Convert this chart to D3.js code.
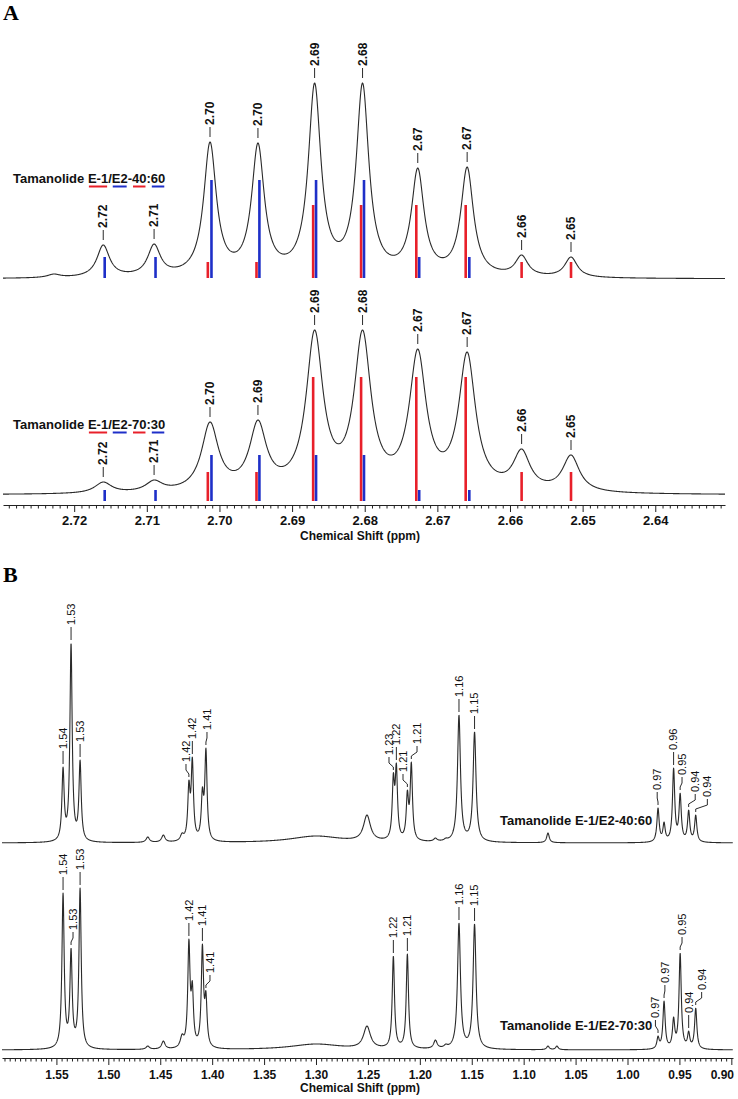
<!DOCTYPE html>
<html>
<head>
<meta charset="utf-8">
<script src="https://cdn.jsdelivr.net/npm/d3@7"></script>
<style>
  body { margin: 0; background: #fff; }
  svg { display: block; }
</style>
</head>
<body>
<svg id="chart"></svg>
<script>
// ---------- panel A : 2.64 - 2.73 ppm ----------
const aTicks = [2.72, 2.71, 2.70, 2.69, 2.68, 2.67, 2.66, 2.65, 2.64];
// observed peaks (ppm) and their heights (a.u.)
const aPeaks   = [2.7228, 2.7160, 2.7090, 2.7013, 2.6947, 2.6869, 2.6803, 2.6727, 2.6659, 2.6584, 2.6516];
const aUpperH  = [5, 34, 35, 137, 136, 196, 196, 111, 112, 24, 22];
const aLowerH  = [0, 13, 15, 73, 75, 165, 165, 146, 143, 46, 40];
const aUpperLabels = [null, "2.72", "2.71", "2.70", "2.70", "2.69", "2.68", "2.67", "2.67", "2.66", "2.65"];
const aLowerLabels = [null, "2.72", "2.71", "2.70", "2.69", "2.69", "2.68", "2.67", "2.67", "2.66", "2.65"];
// calculated lines of E-1 (red) and E-2 (blue)
const e1Ppm = [2.7016, 2.6949, 2.6871, 2.6805, 2.6729, 2.6661, 2.6584, 2.6516];
const e2Ppm = [2.7158, 2.7088, 2.7011, 2.6945, 2.6867, 2.6801, 2.6725, 2.6656];
const upperE1 = [16, 16, 73, 73, 73, 73, 16, 16];
const upperE2 = [21, 21, 98, 98, 98, 98, 21, 21];
const lowerE1 = [29, 29, 124, 124, 124, 124, 29, 29];
const lowerE2 = [11, 11, 46, 46, 46, 46, 11, 11];

// ---------- panel B : 0.90 - 1.60 ppm ----------
const bTicks = [1.55, 1.50, 1.45, 1.40, 1.35, 1.30, 1.25, 1.20, 1.15, 1.10, 1.05, 1.00, 0.95, 0.90];
const bPeaks  = [1.5436, 1.5359, 1.5272, 1.4620, 1.4470, 1.4290, 1.4224, 1.4191, 1.4094, 1.4060,
                 1.3000, 1.2509, 1.2255, 1.2226, 1.2120, 1.2082, 1.1850, 1.1750, 1.1623, 1.1473,
                 1.0766, 1.0680, 0.9706, 0.9648, 0.9556, 0.9493, 0.9411, 0.9343];
const bWidth  = [0.0013, 0.0013, 0.0013, 0.002, 0.002, 0.002, 0.0013, 0.0013, 0.0013, 0.0013,
                 0.03, 0.004, 0.0013, 0.0013, 0.0013, 0.0013, 0.002, 0.002, 0.0017, 0.0017,
                 0.0015, 0.0015, 0.0013, 0.0013, 0.0013, 0.0013, 0.0013, 0.0013];
const bUpperH = [76, 200, 83, 6, 8, 10, 63, 86, 56, 95, 7, 28, 70, 80, 53, 81, 5, 5, 128, 111, 10, 0, 35, 21, 75, 50, 33, 28];
const bLowerH = [157, 102, 162, 4, 9, 16, 111, 69, 106, 59, 6, 24, 94, 0, 96, 0, 10, 6, 127, 126, 4, 4, 14, 49, 33, 97, 19, 42];

const bUpperLabelText = ["1.54", "1.53", "1.53", "1.42", "1.42", "1.41", "1.23", "1.22", "1.21", "1.21", "1.16", "1.15", "0.97", "0.96", "0.95", "0.94", "0.94"];
const bUpperLabelPeak = [1.5436, 1.5359, 1.5272, 1.4224, 1.4191, 1.4060, 1.2255, 1.2226, 1.2120, 1.2082, 1.1623, 1.1473, 0.9706, 0.9556, 0.9493, 0.9411, 0.9343];
const bUpperLabelAt   = [1.5436, 1.5359, 1.5272, 1.4252, 1.4194, 1.4050, 1.2297, 1.2226, 1.2162, 1.2027, 1.1623, 1.1473, 0.9714, 0.9556, 0.9475, 0.9348, 0.9231];
const bLowerLabelText = ["1.54", "1.53", "1.53", "1.42", "1.41", "1.41", "1.22", "1.21", "1.16", "1.15", "0.97", "0.97", "0.95", "0.94", "0.94"];
const bLowerLabelPeak = [1.5436, 1.5359, 1.5272, 1.4224, 1.4094, 1.4060, 1.2255, 1.2120, 1.1623, 1.1473, 0.9706, 0.9648, 0.9493, 0.9411, 0.9343];
const bLowerLabelAt   = [1.5436, 1.5340, 1.5272, 1.4224, 1.4094, 1.4021, 1.2255, 1.2120, 1.1623, 1.1473, 0.9731, 0.9640, 0.9475, 0.9411, 0.9286];

const W = 738, H = 1099;
const RED = "#e8202a", BLUE = "#1e2fc8", INK = "#2a2a2a";
const sans = "Arial, 'Liberation Sans', sans-serif";

const svg = d3.select("#chart").attr("width", W).attr("height", H);

// lorentzian line shapes; amplitudes fitted so the curve passes through the read peak heights
function lor(p, q, a, w) { return a / (1 + ((p - q) / w) ** 2); }
function fitAmps(ppm, h, w) {
  let a = h.slice();
  for (let it = 0; it < 80; it++) {
    const s = ppm.map(p => d3.sum(ppm, (q, j) => lor(p, q, a[j], w[j])));
    a = a.map((v, i) => h[i] === 0 ? 0 : Math.max(0, v + 0.6 * (h[i] - s[i])));
  }
  return a;
}
function makeSpec(ppm, h, w) {
  const amps = fitAmps(ppm, h, w);
  return p => d3.sum(ppm, (q, j) => lor(p, q, amps[j], w[j]));
}

function drawCurve(g, x, y, f, step) {
  const [d0, d1] = x.domain();
  const pts = d3.range(d0, d1, -step).map(p => [p, f(p)]);
  g.append("path")
    .attr("d", d3.line().x(d => x(d[0])).y(d => y(d[1]))(pts))
    .attr("fill", "none")
    .attr("stroke", INK)
    .attr("stroke-width", 1.1)
    .attr("stroke-linejoin", "round");
}

function drawLabels(g, x, y, texts, peaks, ats, f, o) {
  texts.forEach((t, i) => {
    if (!t) return;
    const px = x(peaks[i]), lx = x(ats[i]);
    const top = y(f(peaks[i]));
    const y0 = top - o.gap, y1 = top - o.gap - o.len;
    const pts = Math.abs(px - lx) < 0.5
      ? [[px, y0], [px, y1]]
      : [[px, y0], [px, y0 - 3], [lx, y0 - 7], [lx, y1]];
    g.append("path").attr("d", d3.line()(pts))
      .attr("fill", "none").attr("stroke", INK).attr("stroke-width", 1);
    g.append("text")
      .attr("transform", `translate(${lx},${y1 - 2}) rotate(-90)`)
      .attr("dy", "0.35em")
      .attr("font-family", sans)
      .attr("font-size", o.size)
      .attr("font-weight", o.weight)
      .attr("fill", "#111")
      .text(t);
  });
}

function drawSticks(g, x, ppm, vals, color) {
  g.selectAll(null).data(ppm).enter().append("line")
    .attr("x1", d => x(d)).attr("x2", d => x(d))
    .attr("y1", 0).attr("y2", (d, i) => -vals[i])
    .attr("stroke", color).attr("stroke-width", 2.6);
}

function legend(g, x, y, parts, underline) {
  const t = g.append("text").attr("x", x).attr("y", y)
    .attr("font-family", sans).attr("font-size", 13).attr("font-weight", "bold").attr("fill", "#111");
  t.selectAll("tspan").data(parts).enter().append("tspan").text(d => d[0]);
  if (!underline) return;
  const node = t.node();
  let pos = 0;
  parts.forEach(d => {
    const len = d[0].length;
    if (d[1]) {
      const x0 = x + node.getSubStringLength(0, pos) + 1;
      const w = node.getSubStringLength(pos, len) - 2;
      g.append("line").attr("x1", x0).attr("x2", x0 + w)
        .attr("y1", y + 3.5).attr("y2", y + 3.5)
        .attr("stroke", d[1]).attr("stroke-width", 2);
    }
    pos += len;
  });
}

function drawAxis(g, x, y0, major, minor, fmt, fontSize, pad) {
  const ax = g.append("g").attr("transform", `translate(0,${y0})`);
  ax.call(d3.axisBottom(x).tickValues(minor.filter(v => !major.some(m => Math.abs(m - v) < 1e-9)))
      .tickSize(3.5).tickSizeOuter(0).tickFormat(""));
  ax.append("g").call(d3.axisBottom(x).tickValues(major).tickSize(7).tickSizeOuter(0)
      .tickPadding(pad).tickFormat(fmt))
    .call(s => s.select(".domain").remove());
  ax.selectAll("text").attr("font-family", sans).attr("font-size", fontSize)
    .attr("font-weight", "bold").attr("fill", "#111");
  ax.selectAll("line, path").attr("stroke", "#222");
  // keep the end labels inside the axis
  const [r0, r1] = x.range();
  ax.selectAll(".tick text").each(function () {
    const b = this.getBBox();
    const tx = +this.parentNode.getAttribute("transform").match(/translate\(([-\d.]+)/)[1];
    if (tx + b.x + b.width > r1 + 2) d3.select(this).attr("text-anchor", "end").attr("x", r1 + 1 - tx);
  });
  return ax;
}

// ================= panel A =================
const xA = d3.scaleLinear().domain([2.7298, 2.6304]).range([3, 725]);
const yA = d3.scaleLinear().domain([0, 200]).range([0, -200]);
const fAU = makeSpec(aPeaks, aUpperH, aPeaks.map(() => 0.00105));
const fAL = makeSpec(aPeaks, aLowerH, aPeaks.map(() => 0.0014));

svg.append("text").attr("x", 3).attr("y", 20)
  .attr("font-family", "'Times New Roman', 'Liberation Serif', serif")
  .attr("font-size", 22).attr("font-weight", "bold").text("A");

const gAU = svg.append("g").attr("transform", "translate(0,279)");
drawSticks(svg.append("g").attr("transform", "translate(0,278)"), xA, e1Ppm, upperE1, RED);
drawSticks(svg.append("g").attr("transform", "translate(0,278)"), xA, e2Ppm, upperE2, BLUE);
drawCurve(gAU, xA, yA, fAU, 0.00005);
drawLabels(gAU, xA, yA, aUpperLabels, aPeaks, aPeaks, fAU, { gap: 5, len: 10, size: 12, weight: "bold" });

const gAL = svg.append("g").attr("transform", "translate(0,495)");
drawSticks(svg.append("g").attr("transform", "translate(0,501)"), xA, e1Ppm, lowerE1, RED);
drawSticks(svg.append("g").attr("transform", "translate(0,501)"), xA, e2Ppm, lowerE2, BLUE);
drawCurve(gAL, xA, yA, fAL, 0.00005);
drawLabels(gAL, xA, yA, aLowerLabels, aPeaks, aPeaks, fAL, { gap: 5, len: 10, size: 12, weight: "bold" });

legend(svg.append("g"), 13, 183,
  [["Tamanolide ", null], ["E-1", RED], ["/", null], ["E2", BLUE], ["-", null], ["40", RED], [":", null], ["60", BLUE]], true);
legend(svg.append("g"), 13, 429,
  [["Tamanolide ", null], ["E-1", RED], ["/", null], ["E2", BLUE], ["-", null], ["70", RED], [":", null], ["30", BLUE]], true);

drawAxis(svg.append("g"), xA, 505, aTicks, d3.range(2631, 2730).map(i => i / 1000), d3.format(".2f"), 13, 4);
svg.append("text").attr("x", 360).attr("y", 540).attr("text-anchor", "middle")
  .attr("font-family", sans).attr("font-size", 12).attr("font-weight", "bold").attr("fill", "#111")
  .text("Chemical Shift (ppm)");

// ================= panel B =================
const xB = d3.scaleLinear().domain([1.6024, 0.8984]).range([2, 733]);
const yB = d3.scaleLinear().domain([0, 200]).range([0, -200]);
const fBU = makeSpec(bPeaks, bUpperH, bWidth);
const fBL = makeSpec(bPeaks, bLowerH, bWidth);

svg.append("text").attr("x", 3).attr("y", 582)
  .attr("font-family", "'Times New Roman', 'Liberation Serif', serif")
  .attr("font-size", 22).attr("font-weight", "bold").text("B");

const gBU = svg.append("g").attr("transform", "translate(0,843)");
drawCurve(gBU, xB, yB, fBU, 0.0002);
drawLabels(gBU, xB, yB, bUpperLabelText, bUpperLabelPeak, bUpperLabelAt, fBU, { gap: 3, len: 13, size: 11, weight: "normal" });

const gBL = svg.append("g").attr("transform", "translate(0,1050)");
drawCurve(gBL, xB, yB, fBL, 0.0002);
drawLabels(gBL, xB, yB, bLowerLabelText, bLowerLabelPeak, bLowerLabelAt, fBL, { gap: 3, len: 13, size: 11, weight: "normal" });

legend(svg.append("g"), 500, 825, [["Tamanolide E-1/E2-40:60", null]], false);
legend(svg.append("g"), 500, 1030, [["Tamanolide E-1/E2-70:30", null]], false);

drawAxis(svg.append("g"), xB, 1058, bTicks, d3.range(180, 321).map(i => i / 200), d3.format(".2f"), 12, 5.5);
svg.append("text").attr("x", 360).attr("y", 1092).attr("text-anchor", "middle")
  .attr("font-family", sans).attr("font-size", 12).attr("font-weight", "bold").attr("fill", "#111")
  .text("Chemical Shift (ppm)");
</script>
</body>
</html>
